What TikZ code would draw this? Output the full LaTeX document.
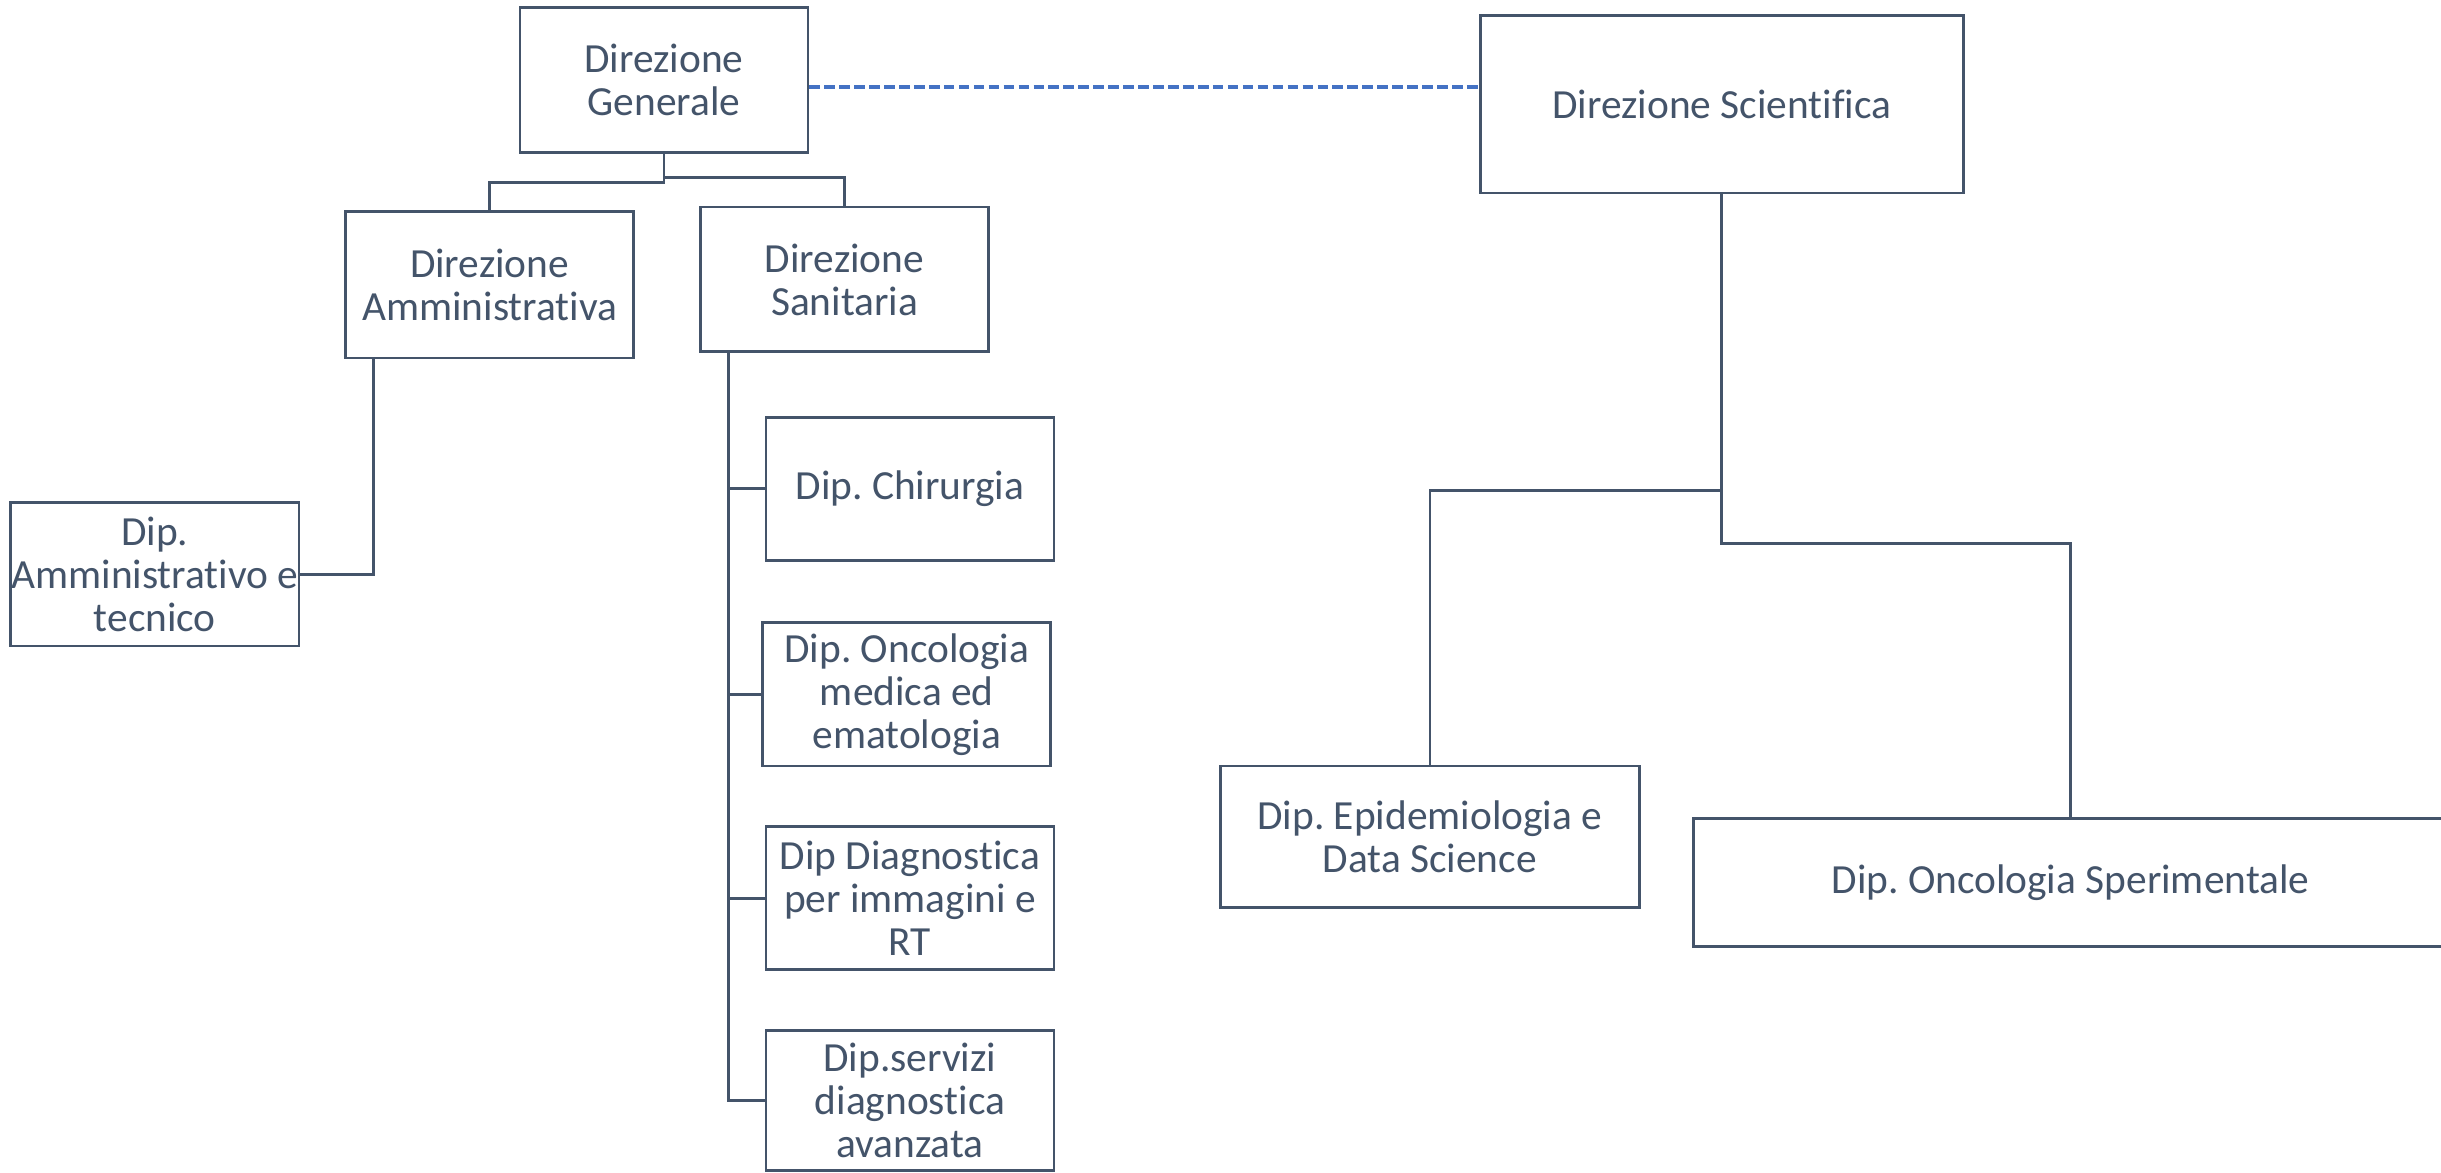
\documentclass[tikz,border=0pt]{standalone}
\usepackage{fontspec}
\setmainfont[Ligatures=NoCommon]{Carlito}
\usetikzlibrary{calc}
\definecolor{slate}{HTML}{44546A}
\definecolor{linkblue}{HTML}{4472C4}
\frenchspacing
\begin{document}
\begin{tikzpicture}[x=0.5pt,y=-0.5pt,
  unit/.style={draw=slate, line width=0.9pt, fill=white, text=slate,
    align=center, inner sep=0pt, font=\fontsize{13.3}{13.8}\selectfont},
  link/.style={draw=slate, line width=0.9pt},
  dotted link/.style={draw=linkblue, line width=1.3pt, dash pattern=on 3.4pt off 1.4pt}]
\clip (0,0) rectangle (1568,753);
\fill[white] (0,0) rectangle (1568,753);

% top level
\node[unit, minimum width=92.5pt, minimum height=46.5pt] (dg) at (426.5,51.5) {Direzione\\Generale};
\node[unit, minimum width=155pt, minimum height=57pt] (ds) at (1106,67) {Direzione Scientifica};

% second level
\node[unit, minimum width=92.5pt, minimum height=47pt] (da) at (314.5,183) {Direzione\\Amministrativa};
\node[unit, minimum width=92.5pt, minimum height=46.5pt] (san) at (542.5,179.5) {Direzione\\Sanitaria};

% departments
\node[unit, minimum width=92.5pt, minimum height=46pt] (amm) at (99.5,369) {Dip.\\Amministrativo e\\tecnico};
\node[unit, minimum width=92.5pt, minimum height=46pt] (chir) at (584.5,314) {Dip. Chirurgia};
\node[unit, minimum width=92.5pt, minimum height=46pt] (onc) at (582.5,446) {Dip. Oncologia\\medica ed\\ematologia};
\node[unit, minimum width=92.5pt, minimum height=46pt] (diag) at (584.5,577) {Dip Diagnostica\\per immagini e\\RT};
\node[unit, minimum width=92.5pt, minimum height=45pt] (serv) at (584.5,707) {Dip.servizi\\diagnostica\\avanzata};
\node[unit, minimum width=134.5pt, minimum height=45.5pt] (epi) at (918.5,537.5) {Dip. Epidemiologia e\\Data Science};
\node[unit, minimum width=242pt, minimum height=41pt] (osp) at (1330,567) {Dip. Oncologia Sperimentale};

% Direzione Generale branches
\coordinate (dgl) at (426.5,117);
\coordinate (dgr) at (426.5,114);
\draw[link] (dg.south) -- (dgl) -| (da.north);
\draw[link] (dgr) -| (san.north);

% Direzione Amministrativa
\draw[link] ([xshift=9.5pt]da.south west) |- (amm.east);

% Direzione Sanitaria spine
\coordinate (spine) at ([xshift=9.5pt]san.south west);
\draw[link] (spine) |- (serv.west);
\draw[link] (chir.west) -- (chir.west -| spine);
\draw[link] (onc.west) -- (onc.west -| spine);
\draw[link] (diag.west) -- (diag.west -| spine);

% Direzione Scientifica branches
\coordinate (dsr) at (1106,349);
\coordinate (dsl) at (1106,315);
\draw[link] (ds.south) -- (dsr) -| (osp.north);
\draw[link] (dsl) -| (epi.north);

% staff relation
\draw[dotted link] ([yshift=-2.25pt]dg.east) -- ([yshift=-2.25pt]dg.east -| ds.west);
\end{tikzpicture}
\end{document}
